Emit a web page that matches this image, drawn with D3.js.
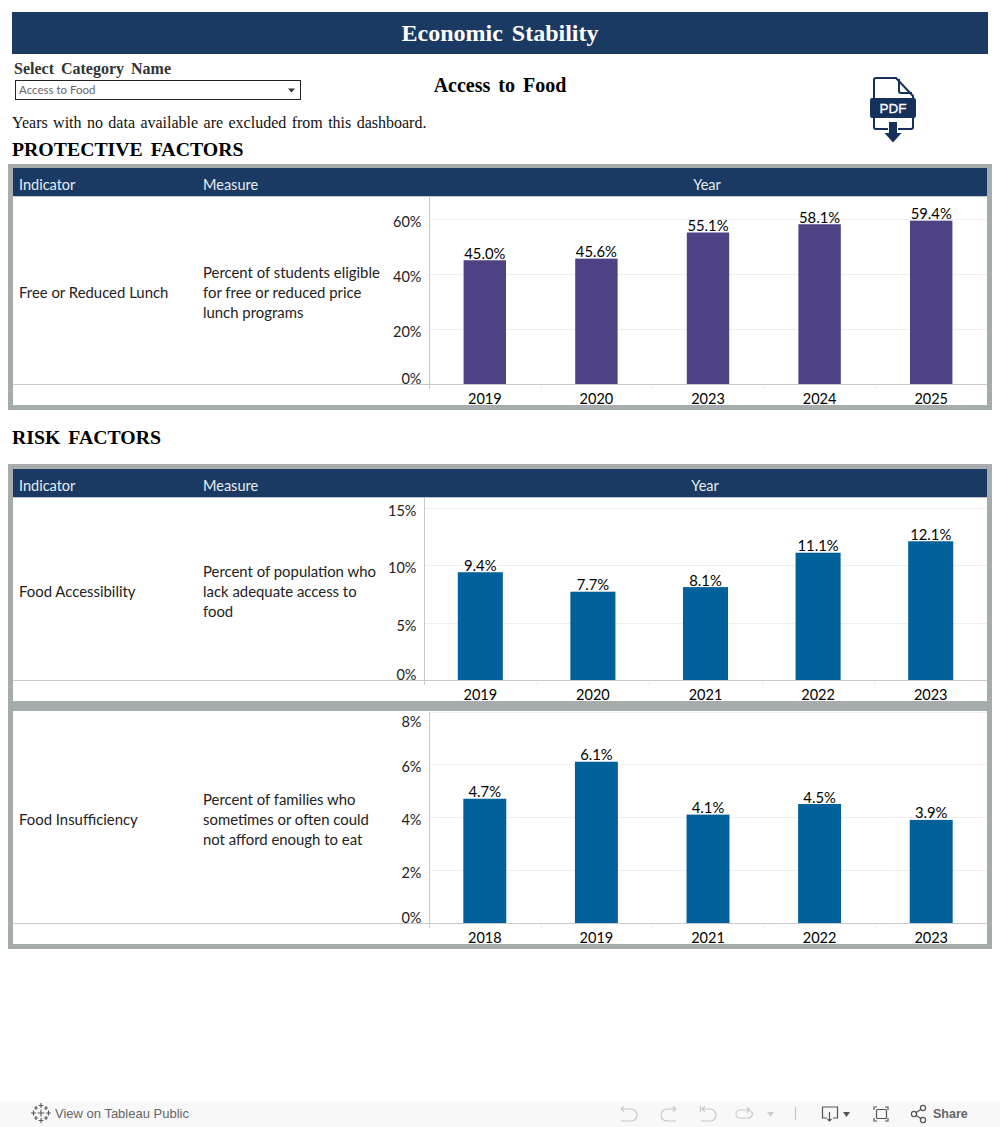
<!DOCTYPE html>
<html><head><meta charset="utf-8">
<script src="https://cdn.jsdelivr.net/npm/d3@7/dist/d3.min.js"></script>
<style>
html,body{margin:0;padding:0;background:#fff;overflow:hidden}
svg{display:block}
.serif{font-family:"Liberation Serif",serif}
.sans{font-family:Lato,"Open Sans",sans-serif}
.ui{font-family:"Liberation Sans",sans-serif}
</style></head><body>
<svg id="c" width="1000" height="1127"></svg>
<script>
const lunchYears=["2019","2020","2023","2024","2025"];
const lunchValues=[45.0,45.6,55.1,58.1,59.4];
const lunchTicks=[0,20,40,60];
const accessYears=["2019","2020","2021","2022","2023"];
const accessValues=[9.4,7.7,8.1,11.1,12.1];
const accessTicks=[0,5,10,15];
const insuffYears=["2018","2019","2021","2022","2023"];
const insuffValues=[4.7,6.1,4.1,4.5,3.9];
const insuffTicks=[0,2,4,6,8];
const NAVY="#1a3a63",GREY="#a6acab",LINE="#c9c9c9",GRID="#efefef";
const svg=d3.select("#c");
const rect=(x,y,w,h,f)=>svg.append("rect").attr("x",x).attr("y",y).attr("width",w).attr("height",h).attr("fill",f);
const text=(s,x,y,cls,size,fill,opt={})=>svg.append("text").text(s).attr("x",x).attr("y",y).attr("class",cls)
  .attr("font-size",size).attr("fill",fill).attr("font-weight",opt.w||400).attr("text-anchor",opt.a||"start")
  .attr("word-spacing",opt.ws||0);

// title band
rect(12,12,976,42,NAVY);
text("Economic Stability",500,41,"serif",24,"#fff",{w:700,a:"middle",ws:3});
text("Select Category Name",14,74,"serif",16,"#333",{w:700,ws:3});
svg.append("rect").attr("x",15.5).attr("y",80.5).attr("width",285).attr("height",19).attr("fill","#fff").attr("stroke","#222");
text("Access to Food",19,94,"sans",11.5,"#666");
svg.append("path").attr("d","M288 88.5h7l-3.5 4z").attr("fill","#333");
text("Access to Food",500,92,"serif",20,"#000",{w:700,a:"middle",ws:3});
text("Years with no data available are excluded from this dashboard.",12,128,"serif",16,"#111",{ws:1.4});
text("PROTECTIVE FACTORS",12,156,"serif",19.8,"#000",{w:700,ws:3});
text("RISK FACTORS",12,444,"serif",19.8,"#000",{w:700,ws:3});

// pdf icon
const pdf=svg.append("g").attr("fill","none").attr("stroke","#15305a").attr("stroke-width",2);
pdf.append("path").attr("d","M874 98V80q0-2 2-2h20l17 18v2M874 118v9q0 2 2 2h12M898 129h13q2 0 2-2v-9");
pdf.append("path").attr("d","M899 79v12q0 2 2 2h11");
svg.append("rect").attr("x",870).attr("y",98).attr("width",46).attr("height",20).attr("rx",2).attr("fill","#15305a");
text("PDF",893,113,"ui",13.5,"#fff",{w:400,a:"middle"}).attr("stroke","#fff").attr("stroke-width",.3);
svg.append("path").attr("d","M889 122h8v11h4.5l-8.500 9.500-8.500-9.500h4.500z").attr("fill","#15305a");

// panels
function frame(y,h){
  rect(8,y,984,h,GREY);
  rect(13,y+4,974,h-9,"#fff");
}
frame(164,246);
frame(464,485);
rect(13,701,974,10,GREY);
rect(13,464,974,5,GREY);

function header(y,yearX){
  rect(13,y,974,28,NAVY);
  rect(13,y+28,974,1,"#c4c8cc");
  text("Indicator",19,y+22,"sans",14.5,"#e8edf3");
  text("Measure",203,y+22,"sans",14.5,"#e8edf3");
  text("Year",yearX,y+22,"sans",14.5,"#e8edf3",{a:"middle"});
}
header(168,707);
header(469,705);

function row(o){
  const y=d3.scaleLinear().domain([0,o.ticks[o.ticks.length-1]]).range([o.base,o.topTick]);
  const x=d3.scaleBand().domain(o.years).range([o.axisX,987]).paddingInner(o.pad).paddingOuter(o.pad/2);
  const g=svg.append("g");
  // gridlines
  g.append("g").selectAll("line").data(o.ticks.filter(t=>t>0)).join("line")
    .attr("x1",o.axisX).attr("x2",987).attr("y1",d=>Math.round(y(d))+.5).attr("y2",d=>Math.round(y(d))+.5)
    .attr("stroke",GRID);
  // bars
  g.append("g").selectAll("rect").data(o.values).join("rect")
    .attr("x",(d,i)=>x(o.years[i])).attr("width",x.bandwidth())
    .attr("y",d=>y(d)).attr("height",d=>o.base-y(d)).attr("fill",o.color);
  // baseline & axis line
  g.append("line").attr("x1",13).attr("x2",987).attr("y1",o.base+.5).attr("y2",o.base+.5).attr("stroke",LINE);
  g.append("line").attr("x1",o.axisX+.5).attr("x2",o.axisX+.5).attr("y1",o.top).attr("y2",o.base+5).attr("stroke",LINE);
  // faint separators under the baseline between years
  g.append("g").selectAll("line").data(o.years.slice(1)).join("line")
    .attr("x1",d=>Math.round(x(d)-x.step()*o.pad/2)+.5).attr("x2",d=>Math.round(x(d)-x.step()*o.pad/2)+.5)
    .attr("y1",o.base+1).attr("y2",o.base+5).attr("stroke",GRID);
  // x labels
  g.append("g").selectAll("text").data(o.years).join("text").text(d=>d)
    .attr("x",d=>x(d)+x.bandwidth()/2).attr("y",o.base+o.xLabelDy).attr("text-anchor","middle")
    .attr("class","sans").attr("font-size",14.5).attr("fill","#000");
  // y labels
  g.append("g").selectAll("text").data(o.ticks).join("text").text(d=>d+"%")
    .attr("x",o.axisX-7.5).attr("y",d=>d===0?o.base:Math.max(y(d),o.top+7)+8).attr("text-anchor","end")
    .attr("class","sans").attr("font-size",14.5).attr("fill","#222");
  // value labels
  g.append("g").selectAll("text").data(o.values).join("text").text(d=>d.toFixed(1)+"%")
    .attr("x",(d,i)=>x(o.years[i])+x.bandwidth()/2).attr("y",d=>y(d)-1.5).attr("text-anchor","middle")
    .attr("class","sans").attr("font-size",14.8).attr("fill","#000");
  text(o.indicator,19,o.midY+5,"sans",14.9,"#222");
  o.measure.forEach((l,i)=>text(l,203,o.midY+5+(i-(o.measure.length-1)/2)*20,"sans",14.9,"#222"));
}
row({years:lunchYears,values:lunchValues,ticks:lunchTicks,axisX:429,base:384,topTick:219,top:197,pad:.62,color:"#4f4284",xLabelDy:20,
  indicator:"Free or Reduced Lunch",measure:["Percent of students eligible","for free or reduced price","lunch programs"],midY:293});
row({years:accessYears,values:accessValues,ticks:accessTicks,axisX:424,base:680,topTick:508,top:498,pad:.6,color:"#01619b",xLabelDy:20,
  indicator:"Food Accessibility",measure:["Percent of population who","lack adequate access to","food"],midY:592});
row({years:insuffYears,values:insuffValues,ticks:insuffTicks,axisX:429,base:923,topTick:711.5,top:712,pad:.615,color:"#01619b",xLabelDy:20,
  indicator:"Food Insufficiency",measure:["Percent of families who","sometimes or often could","not afford enough to eat"],midY:820});

// toolbar
rect(0,1101,1000,26,"#f8f8f8");
const tl=svg.append("g").attr("fill","none").attr("stroke","#555").attr("stroke-width",1.1);
[[41,1113,3.4],[41,1105.5,2.4],[41,1120.5,2.4],[33.5,1113,2.4],[48.5,1113,2.4],[36,1108,1.9],[46,1108,1.9],[36,1118,1.9],[46,1118,1.9]]
 .forEach(([cx,cy,r])=>{tl.append("path").attr("d",`M${cx} ${cy-r}v${2*r}M${cx-r} ${cy}h${2*r}`);});
text("View on Tableau Public",55,1118,"ui",13,"#666");
const ic=svg.append("g").attr("fill","none").attr("stroke","#c8c8c8").attr("stroke-width",1.2);
ic.append("path").attr("d","M621 1109h10a6 6 0 0 1 0 12h-10M621 1109l3-2.500M621 1109l3 2.500");
ic.append("path").attr("d","M676 1109h-9a6 6 0 0 0 0 12h9M676 1109l-3-2.500M676 1109l-3 2.500");
ic.append("path").attr("d","M702 1109h8a6 6 0 0 1 0 12h-9M702 1109l3-2.500M702 1109l3 2.500M700.500 1106v6");
ic.append("path").attr("d","M750 1110h-10a4 4 0 0 0 0 8h8a4 4 0 0 0 3-7M750 1110l-3-2.500M750 1110l-3 2.500");
svg.append("path").attr("d","M767 1112h7l-3.500 5z").attr("fill","#ccc");
ic.append("line").attr("x1",795.5).attr("x2",795.5).attr("y1",1107).attr("y2",1120);
const ic2=svg.append("g").attr("fill","none").attr("stroke","#555").attr("stroke-width",1.2);
ic2.append("path").attr("d","M827 1118h-4.500v-11h15v11h-4.500M829.500 1112v9M827.500 1119l2 2 2-2");
svg.append("path").attr("d","M843 1112h7l-3.500 5z").attr("fill","#555");
ic2.append("path").attr("d","M874 1110v-3h3M885 1107h3v3M888 1118v3h-3M877 1121h-3v-3");
ic2.append("rect").attr("x",876.5).attr("y",1109.5).attr("width",10).attr("height",9).attr("rx",1);
ic2.append("path").attr("d","M915.5 1113l6-4M915.5 1115l6 4");
ic2.selectAll("circle").data([[914,1114],[923,1108],[923,1120]]).join("circle").attr("cx",d=>d[0]).attr("cy",d=>d[1]).attr("r",2.6);
text("Share",933,1118,"ui",12.5,"#666",{w:700});
</script>
</body></html>
